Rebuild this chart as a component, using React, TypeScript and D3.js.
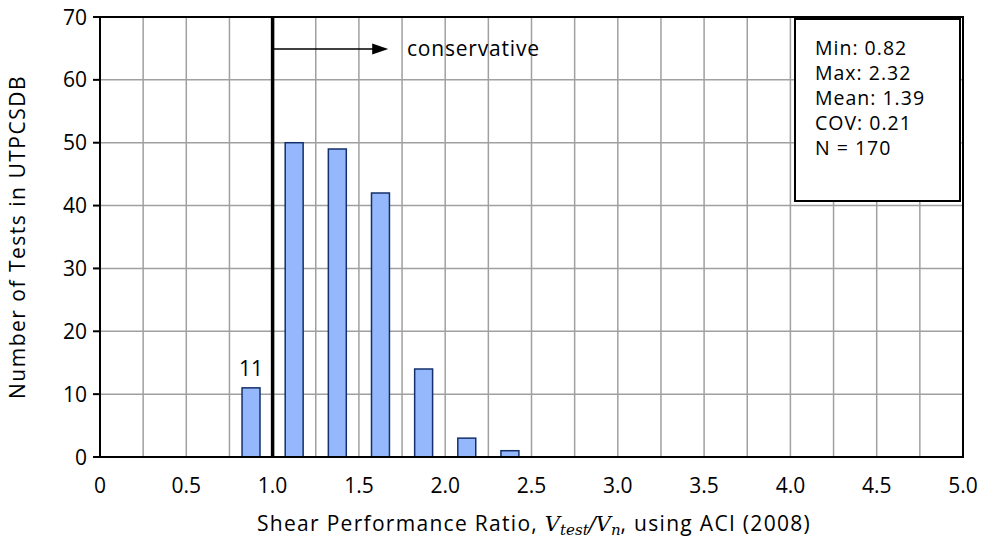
import { scaleLinear, range } from 'd3';
import React from 'react';

// histogram bins (center of each 0.25-wide bin) and test counts
const binCenters = [0.875, 1.125, 1.375, 1.625, 1.875, 2.125, 2.375];
const counts = [11, 50, 49, 42, 14, 3, 1];
const xTickLabels = ['0', '0.5', '1.0', '1.5', '2.0', '2.5', '3.0', '3.5', '4.0', '4.5', '5.0'];
const yTickValues = [0, 10, 20, 30, 40, 50, 60, 70];
const statLines = ['Min: 0.82', 'Max: 2.32', 'Mean: 1.39', 'COV: 0.21', 'N = 170'];
const limitRatio = 1.0;

const W = 982;
const H = 538;
const font = "'Open Sans', Lato, sans-serif";
const fs = 21;
const mathFont = "'DejaVu Serif', 'Liberation Serif', serif";

const App = () => {
  const x = scaleLinear().domain([0, 5]).range([100, 963]);
  const y = scaleLinear().domain([0, 70]).range([457, 17]);
  const barW = x(0.104) - x(0);
  const gridX = range(0, 5.001, 0.25);

  return (
    <svg width={W} height={H} style={{ position: 'absolute', left: 0, top: 0, background: '#fff' }}>
      {/* grid */}
      {gridX.map((g) => (
        <line key={'gx' + g} x1={x(g)} x2={x(g)} y1={y(0)} y2={y(70)} stroke="#a0a0a0" strokeWidth={1.5} />
      ))}
      {yTickValues.map((v) => (
        <line key={'gy' + v} x1={x(0)} x2={x(5)} y1={y(v)} y2={y(v)} stroke="#a0a0a0" strokeWidth={1.5} />
      ))}

      {/* bars */}
      {binCenters.map((c, i) => (
        <rect
          key={c}
          x={x(c) - barW / 2}
          y={y(counts[i])}
          width={barW}
          height={y(0) - y(counts[i])}
          fill="#95b8fc"
          stroke="#13306a"
          strokeWidth={1.5}
        />
      ))}
      <text x={x(binCenters[0])} y={y(counts[0]) - 12} textAnchor="middle" fontFamily={font} fontSize={fs}>
        {counts[0]}
      </text>

      {/* plot frame */}
      <rect x={x(0)} y={y(70)} width={x(5) - x(0)} height={y(0) - y(70)} fill="none" stroke="#000" strokeWidth={2} />

      {/* y ticks */}
      {yTickValues.map((v) => (
        <g key={'yt' + v}>
          <line x1={x(0) - 7} x2={x(0)} y1={y(v)} y2={y(v)} stroke="#000" strokeWidth={2} />
          <text x={x(0) - 13} y={y(v)} dy="0.36em" textAnchor="end" fontFamily={font} fontSize={fs}>
            {v}
          </text>
        </g>
      ))}
      {/* x tick labels */}
      {xTickLabels.map((t, i) => (
        <text key={'xt' + t} x={x(i * 0.5)} y={493} textAnchor="middle" fontFamily={font} fontSize={fs}>
          {t}
        </text>
      ))}

      {/* limit line and arrow */}
      <line x1={x(limitRatio)} x2={x(limitRatio)} y1={y(0)} y2={y(70)} stroke="#000" strokeWidth={3.5} />
      <line x1={x(limitRatio)} x2={x(1.6)} y1={49} y2={49} stroke="#000" strokeWidth={1.5} />
      <path d={`M${x(1.67)},49 L${x(1.6) - 4},43.5 L${x(1.6) - 4},54.5 Z`} fill="#000" />
      <text x={407} y={56} fontFamily={font} fontSize={fs} letterSpacing={0.8}>
        conservative
      </text>

      {/* stats box */}
      <rect x={795} y={19} width={165} height={182} fill="#fff" stroke="#000" strokeWidth={2} />
      {statLines.map((s, i) => (
        <text key={s} x={815} y={55 + i * 25} fontFamily={font} fontSize={19.5} letterSpacing={1}>
          {s}
        </text>
      ))}

      {/* axis titles */}
      <text x={534} y={531} textAnchor="middle" fontFamily={font} fontSize={fs} letterSpacing={1.3}>
        <tspan>Shear Performance Ratio, </tspan>
        <tspan fontFamily={mathFont} fontStyle="italic" letterSpacing={0}>V</tspan>
        <tspan fontFamily={mathFont} fontStyle="italic" fontSize={15} dy={4} letterSpacing={0}>test</tspan>
        <tspan fontFamily={mathFont} fontStyle="italic" dy={-4} letterSpacing={0}>/V</tspan>
        <tspan fontFamily={mathFont} fontStyle="italic" fontSize={15} dy={4} letterSpacing={0}>n</tspan>
        <tspan dy={-4}>, using ACI (2008)</tspan>
      </text>
      <text
        transform={`translate(25, ${(y(0) + y(70)) / 2}) rotate(-90)`}
        textAnchor="middle"
        fontFamily={font}
        fontSize={fs}
        letterSpacing={1.5}
      >
        Number of Tests in UTPCSDB
      </text>
    </svg>
  );
};

export default App;
